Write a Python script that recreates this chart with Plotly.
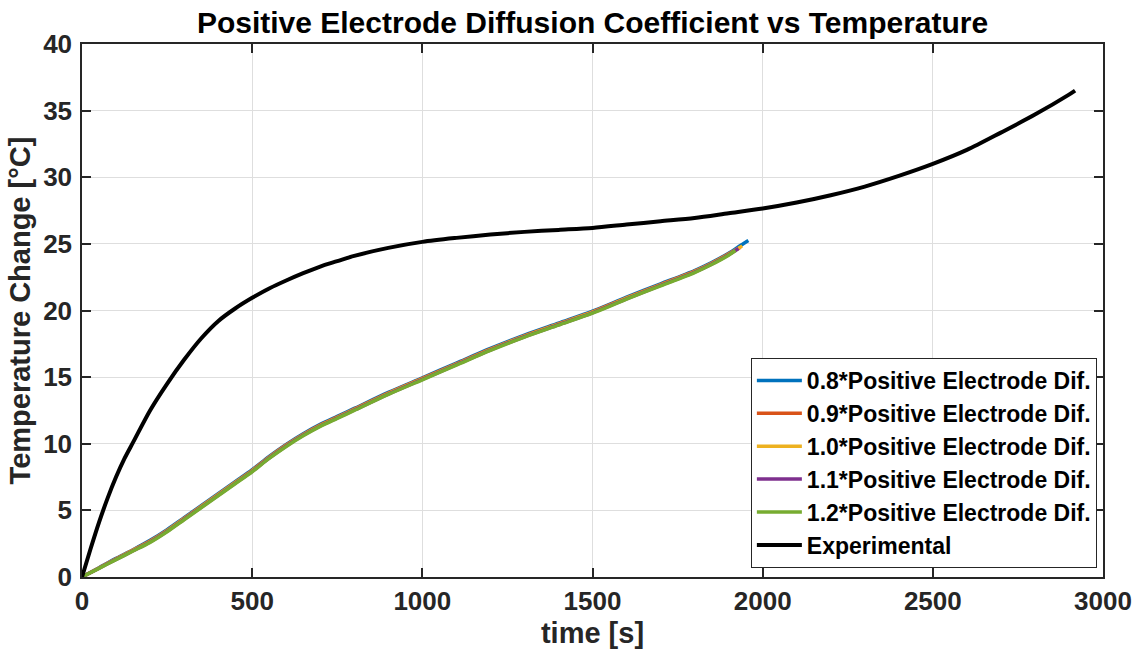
import plotly.graph_objects as go

# ---------------- data ----------------
time_sim = [0, 50, 100, 150, 200, 250, 300, 350, 400, 450, 500, 550, 600, 650, 700, 750,
            800, 900, 1000, 1100, 1200, 1300, 1400, 1500, 1600, 1700, 1800, 1850, 1900]

temp_08 = [0, 0.70, 1.40, 2.05, 2.75, 3.55, 4.45, 5.35, 6.25, 7.15, 8.05, 9.05, 9.95, 10.75, 11.45, 12.05,
           12.65, 13.85, 14.95, 16.05, 17.15, 18.15, 19.05, 19.95, 21.00, 22.00, 23.00, 23.60, 24.30]
temp_09 = [0, 0.68, 1.37, 2.02, 2.70, 3.50, 4.40, 5.30, 6.20, 7.10, 8.00, 9.00, 9.90, 10.70, 11.40, 12.00,
           12.60, 13.80, 14.90, 16.00, 17.10, 18.10, 19.00, 19.90, 20.95, 21.95, 22.95, 23.55, 24.25]
temp_10 = [0, 0.67, 1.35, 2.00, 2.67, 3.47, 4.37, 5.27, 6.17, 7.07, 7.97, 8.97, 9.87, 10.67, 11.37, 11.97,
           12.57, 13.77, 14.87, 15.97, 17.07, 18.07, 18.97, 19.87, 20.92, 21.92, 22.92, 23.52, 24.22]
temp_11 = [0, 0.66, 1.32, 1.97, 2.63, 3.43, 4.33, 5.23, 6.13, 7.03, 7.93, 8.93, 9.83, 10.63, 11.33, 11.93,
           12.53, 13.73, 14.83, 15.93, 17.03, 18.03, 18.93, 19.83, 20.88, 21.88, 22.88, 23.48, 24.18]
temp_12 = [0, 0.65, 1.30, 1.95, 2.60, 3.40, 4.30, 5.20, 6.10, 7.00, 7.90, 8.90, 9.80, 10.60, 11.30, 11.90,
           12.50, 13.70, 14.80, 15.90, 17.00, 18.00, 18.90, 19.80, 20.85, 21.85, 22.85, 23.45, 24.15]

# final points of each simulated run (runs stop at slightly different times)
end_time = {"0.8": [1930, 1958], "0.9": [1935], "1.0": [1940], "1.1": [1929], "1.2": [1920]}
end_temp = {"0.8": [24.80, 25.25], "0.9": [24.75], "1.0": [24.85], "1.1": [24.65], "1.2": [24.50]}

time_exp = [0, 25, 50, 75, 100, 125, 150, 200, 250, 300, 350, 400, 450, 500, 550, 600, 650, 700, 750,
            800, 900, 1000, 1100, 1200, 1300, 1400, 1500, 1600, 1700, 1800, 1900, 2000, 2100, 2200,
            2300, 2400, 2500, 2600, 2700, 2800, 2900, 2918]
temp_exp = [0, 2.1, 4.1, 5.9, 7.5, 8.9, 10.1, 12.5, 14.5, 16.3, 17.9, 19.2, 20.15, 20.95, 21.65, 22.25,
            22.8, 23.3, 23.7, 24.1, 24.7, 25.15, 25.45, 25.7, 25.9, 26.05, 26.2, 26.45, 26.7, 26.95,
            27.3, 27.65, 28.1, 28.65, 29.3, 30.1, 31.0, 32.05, 33.35, 34.7, 36.2, 36.5]

labels = ["0.8", "0.9", "1.0", "1.1", "1.2"]
series = [temp_08, temp_09, temp_10, temp_11, temp_12]
colors = ["#0072BD", "#D95319", "#EDB120", "#7E2F8E", "#77AC30"]

x_ticks = [0, 500, 1000, 1500, 2000, 2500, 3000]
y_ticks = [0, 5, 10, 15, 20, 25, 30, 35, 40]

# ---------------- figure ----------------
FONT = "Liberation Sans, Arial, Helvetica, sans-serif"
AX = "#262626"

fig = go.Figure()
for lab, ys, col in zip(labels, series, colors):
    fig.add_trace(go.Scatter(
        x=time_sim + end_time[lab], y=ys + end_temp[lab], mode="lines",
        name=f"{lab}*Positive Electrode Dif.",
        line=dict(color=col, width=3.5, shape="spline", smoothing=0.8),
    ))
fig.add_trace(go.Scatter(
    x=time_exp, y=temp_exp, mode="lines", name="Experimental",
    line=dict(color="black", width=4, shape="spline", smoothing=0.8),
))

axis_common = dict(
    showline=True, linecolor=AX, linewidth=1.5, mirror="ticks",
    ticks="inside", ticklen=9, tickwidth=1.5, tickcolor=AX,
    showgrid=True, gridcolor="#dedede", gridwidth=1, zeroline=False,
    tickfont=dict(family=FONT, size=26, color=AX, weight="bold"),
)

fig.update_layout(
    width=1145, height=657,
    margin=dict(l=82, r=42, t=44, b=80),
    paper_bgcolor="white", plot_bgcolor="white",
    title=dict(text="Positive Electrode Diffusion Coefficient vs Temperature",
               x=0.5175, xanchor="center", y=0.965, yanchor="middle", yref="container",
               font=dict(family=FONT, size=30, color="black", weight="bold")),
    xaxis=dict(range=[0, 3000], tickvals=x_ticks,
               title=dict(text="time [s]", standoff=8,
                          font=dict(family=FONT, size=29, color=AX, weight="bold")),
               **axis_common),
    yaxis=dict(range=[0, 40], tickvals=y_ticks, ticklabelstandoff=3,
               title=dict(text="Temperature Change [°C]", standoff=4,
                          font=dict(family=FONT, size=29, color=AX, weight="bold")),
               **axis_common),
    legend=dict(x=0.994, xanchor="right", y=0.017, yanchor="bottom",
                bgcolor="white", bordercolor=AX, borderwidth=1,
                font=dict(family=FONT, size=23, color="black", weight="bold"),
                itemwidth=45, tracegroupgap=0),
    showlegend=True,
)

fig.write_html("out.html")
